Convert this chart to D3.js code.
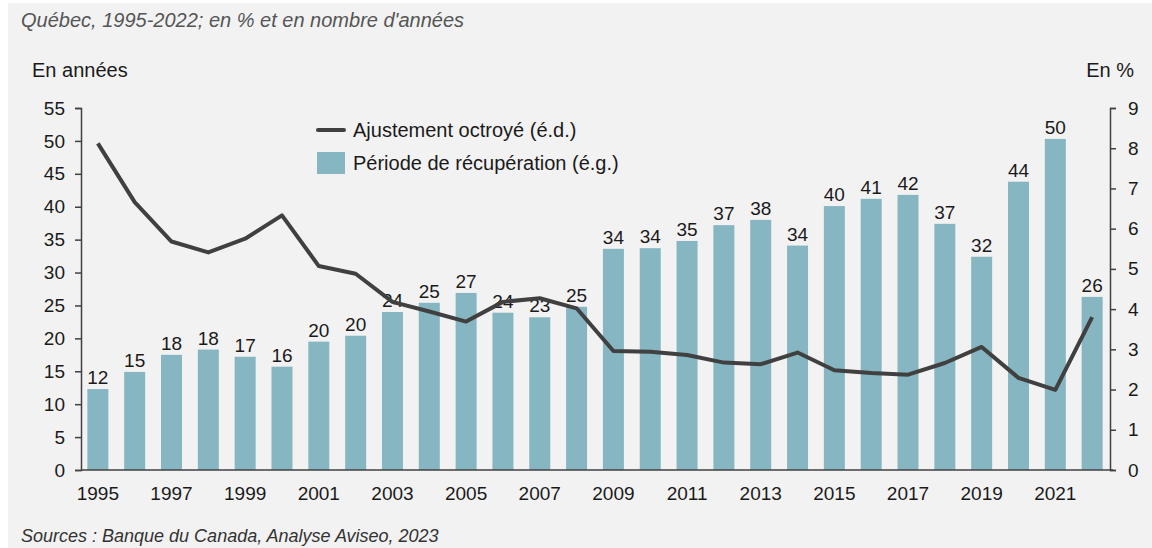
<!DOCTYPE html>
<html>
<head>
<meta charset="utf-8">
<script src="https://cdn.jsdelivr.net/npm/d3@7/dist/d3.min.js"></script>
<style>
  body { margin: 0; background: #fff; }
  svg { display: block; font-family: "Liberation Sans", Arial, sans-serif; }
</style>
</head>
<body>
<svg></svg>
<script>
const WIDTH = 1152;
const HEIGHT = 548;

// Années
const years = d3.range(1995, 2023);

// Période de récupération (é.g.), en années
const recovery = [12.3, 14.9, 17.5, 18.3, 17.2, 15.7, 19.5, 20.4, 24.0, 25.4,
  26.9, 23.9, 23.2, 24.8, 33.6, 33.7, 34.8, 37.2, 38.0, 34.1,
  40.1, 41.2, 41.8, 37.4, 32.4, 43.8, 50.3, 26.3];
// Étiquettes affichées au-dessus des barres
const recoveryLabels = [12, 15, 18, 18, 17, 16, 20, 20, 24, 25, 27, 24, 23, 25,
  34, 34, 35, 37, 38, 34, 40, 41, 42, 37, 32, 44, 50, 26];

// Ajustement octroyé (é.d.), en %
const adjustment = [8.12, 6.66, 5.68, 5.41, 5.75, 6.33, 5.07, 4.88, 4.18, 3.94,
  3.69, 4.18, 4.27, 4.02, 2.96, 2.94, 2.86, 2.67, 2.63, 2.92,
  2.48, 2.41, 2.37, 2.66, 3.06, 2.29, 1.99, 3.80];

const leftTicks = d3.range(0, 56, 5);
const rightTicks = d3.range(0, 10, 1);
const yearTicks = years.filter(y => (y - 1995) % 2 === 0);

const BAR_COLOR = '#86b6c2';
const DARK = '#404040';
const NUM_SIZE = 19;
const TEXT_SIZE = 20;

const svg = d3.select('svg')
  .attr('width', WIDTH)
  .attr('height', HEIGHT)
  .attr('viewBox', `0 0 ${WIDTH} ${HEIGHT}`);

// Fond gris
svg.append('rect')
  .attr('x', 8).attr('y', 3)
  .attr('width', WIDTH - 8).attr('height', HEIGHT - 3)
  .attr('fill', '#f2f2f2');

const x = d3.scaleBand().domain(years).range([80, 1110]).paddingInner(0.43).paddingOuter(0.2);
const yLeft = d3.scaleLinear().domain([0, 55]).range([470, 108]);
const yRight = d3.scaleLinear().domain([0, 9]).range([470, 108]);

// Barres
svg.append('g')
  .selectAll('rect')
  .data(years)
  .join('rect')
  .attr('x', d => x(d))
  .attr('width', x.bandwidth())
  .attr('y', (d, i) => yLeft(recovery[i]))
  .attr('height', (d, i) => yLeft(0) - yLeft(recovery[i]))
  .attr('fill', BAR_COLOR);

// Étiquettes de valeurs
svg.append('g')
  .selectAll('text')
  .data(years)
  .join('text')
  .attr('x', d => x(d) + x.bandwidth() / 2)
  .attr('y', (d, i) => yLeft(recovery[i]) - 5)
  .attr('text-anchor', 'middle')
  .attr('font-size', NUM_SIZE)
  .attr('fill', '#1a1a1a')
  .text((d, i) => recoveryLabels[i]);

// Axes
function styleAxis(g) {
  g.select('.domain').attr('stroke', DARK).attr('stroke-width', 1.5);
  g.selectAll('.tick line').attr('stroke', DARK).attr('stroke-width', 1.5);
  g.selectAll('.tick text').attr('fill', '#1a1a1a').attr('font-size', NUM_SIZE)
    .attr('font-family', '"Liberation Sans", Arial, sans-serif');
}

svg.append('g')
  .attr('transform', 'translate(81,0)')
  .call(d3.axisLeft(yLeft).tickValues(leftTicks).tickSizeOuter(6).tickSize(6).tickPadding(10))
  .call(styleAxis);

svg.append('g')
  .attr('transform', 'translate(1110,0)')
  .call(d3.axisRight(yRight).tickValues(rightTicks).tickSizeOuter(6).tickSize(6).tickPadding(12))
  .call(styleAxis);

// Axe des x
svg.append('line')
  .attr('x1', 81).attr('x2', 1113)
  .attr('y1', yLeft(0)).attr('y2', yLeft(0))
  .attr('stroke', DARK).attr('stroke-width', 1.5);

svg.append('g')
  .selectAll('text')
  .data(yearTicks)
  .join('text')
  .attr('x', d => x(d) + x.bandwidth() / 2)
  .attr('y', 500)
  .attr('text-anchor', 'middle')
  .attr('font-size', NUM_SIZE)
  .attr('fill', '#1a1a1a')
  .text(d => d);

// Ligne
const line = d3.line()
  .x((d, i) => x(years[i]) + x.bandwidth() / 2)
  .y(d => yRight(d));

svg.append('path')
  .datum(adjustment)
  .attr('d', line)
  .attr('fill', 'none')
  .attr('stroke', DARK)
  .attr('stroke-width', 4)
  .attr('stroke-linejoin', 'round');

// Légende
const legend = svg.append('g');
legend.append('line')
  .attr('x1', 318).attr('x2', 344).attr('y1', 130).attr('y2', 130)
  .attr('stroke', DARK).attr('stroke-width', 4).attr('stroke-linecap', 'round');
legend.append('text')
  .attr('x', 353).attr('y', 137)
  .attr('font-size', TEXT_SIZE).attr('fill', '#1a1a1a')
  .text('Ajustement octroyé (é.d.)');
legend.append('rect')
  .attr('x', 317).attr('y', 152).attr('width', 28).attr('height', 22)
  .attr('fill', BAR_COLOR);
legend.append('text')
  .attr('x', 353).attr('y', 170)
  .attr('font-size', TEXT_SIZE).attr('fill', '#1a1a1a')
  .text('Période de récupération (é.g.)');

// Textes
svg.append('text')
  .attr('x', 21).attr('y', 27)
  .attr('font-size', TEXT_SIZE).attr('font-style', 'italic').attr('fill', '#555')
  .text('Québec, 1995-2022; en % et en nombre d\'années');

svg.append('text')
  .attr('x', 32).attr('y', 77)
  .attr('font-size', TEXT_SIZE).attr('fill', '#1a1a1a')
  .text('En années');

svg.append('text')
  .attr('x', 1134).attr('y', 77)
  .attr('text-anchor', 'end')
  .attr('font-size', TEXT_SIZE).attr('fill', '#1a1a1a')
  .text('En %');

svg.append('text')
  .attr('x', 21).attr('y', 542)
  .attr('font-size', 18).attr('font-style', 'italic').attr('fill', '#333')
  .text('Sources : Banque du Canada, Analyse Aviseo, 2023');
</script>
</body>
</html>
